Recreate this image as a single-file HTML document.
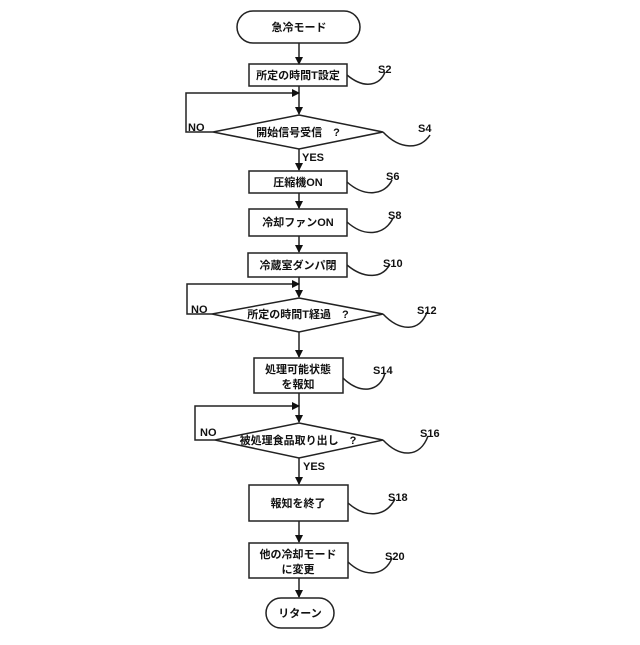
<!DOCTYPE html>
<html><head><meta charset="utf-8"><style>
body{margin:0;background:#fff}
text{font-family:"Liberation Sans","Noto Sans CJK JP",sans-serif;font-weight:bold;fill:#111}
</style></head><body>
<svg width="640" height="640" viewBox="0 0 640 640" xmlns="http://www.w3.org/2000/svg">
<defs><marker id="a" markerWidth="8" markerHeight="8" refX="7" refY="4" orient="auto" markerUnits="userSpaceOnUse"><path d="M0,0 L8,4 L0,8 z" fill="#111"/></marker></defs>
<g stroke="#222" stroke-width="1.5" fill="none">
<rect x="237" y="11" width="123" height="32" rx="16" fill="#fff"/>
<line x1="299" y1="43" x2="299" y2="64" marker-end="url(#a)"/>
<rect x="249" y="64" width="98" height="22"/>
<path d="M347,75 C365,90 380,85 385,72"/>
<line x1="299" y1="86" x2="299" y2="114" marker-end="url(#a)"/>
<polyline points="213,132 186,132 186,93 299,93" marker-end="url(#a)"/>
<polygon points="299,115 383,132 299,149 213,132"/>
<path d="M383,132 C400,150 420,150 430,135"/>
<line x1="299" y1="149" x2="299" y2="170" marker-end="url(#a)"/>
<rect x="249" y="171" width="98" height="22"/>
<path d="M347,182 C365,198 385,195 392,180"/>
<line x1="299" y1="193" x2="299" y2="208" marker-end="url(#a)"/>
<rect x="249" y="209" width="98" height="27"/>
<path d="M347,222 C365,238 385,235 393,218"/>
<line x1="299" y1="236" x2="299" y2="252" marker-end="url(#a)"/>
<rect x="248" y="253" width="99" height="24"/>
<path d="M347,265 C365,280 383,278 390,264"/>
<line x1="299" y1="277" x2="299" y2="297" marker-end="url(#a)"/>
<polyline points="212,314 187,314 187,284 299,284" marker-end="url(#a)"/>
<polygon points="299,298 383,314 299,332 212,314"/>
<path d="M383,314 C400,332 420,332 427,312"/>
<line x1="299" y1="332" x2="299" y2="357" marker-end="url(#a)"/>
<rect x="254" y="358" width="89" height="35"/>
<path d="M343,378 C360,395 380,392 385,373"/>
<line x1="299" y1="393" x2="299" y2="422" marker-end="url(#a)"/>
<polyline points="215,440 195,440 195,406 299,406" marker-end="url(#a)"/>
<polygon points="299,423 383,440 299,458 215,440"/>
<path d="M383,440 C400,458 420,458 428,436"/>
<line x1="299" y1="458" x2="299" y2="484" marker-end="url(#a)"/>
<rect x="249" y="485" width="99" height="36"/>
<path d="M348,503 C365,518 385,518 395,499"/>
<line x1="299" y1="521" x2="299" y2="542" marker-end="url(#a)"/>
<rect x="249" y="543" width="99" height="35"/>
<path d="M348,562 C365,578 385,576 392,558"/>
<line x1="299" y1="578" x2="299" y2="597" marker-end="url(#a)"/>
<rect x="266" y="598" width="68" height="30" rx="15" fill="#fff"/>
</g>
<g font-size="11" text-anchor="middle">
<text x="299" y="31">急冷モード</text>
<text x="298" y="79">所定の時間T設定</text>
<text x="298" y="136">開始信号受信　?</text>
<text x="298" y="186">圧縮機ON</text>
<text x="298" y="226">冷却ファンON</text>
<text x="298" y="269">冷蔵室ダンパ閉</text>
<text x="298" y="318">所定の時間T経過　?</text>
<text x="298" y="373">処理可能状態</text>
<text x="298" y="388">を報知</text>
<text x="298" y="444">被処理食品取り出し　?</text>
<text x="298" y="507">報知を終了</text>
<text x="298" y="558">他の冷却モード</text>
<text x="298" y="573">に変更</text>
<text x="300" y="617">リターン</text>
</g>
<g font-size="11">
<text x="378" y="73">S2</text>
<text x="418" y="132">S4</text>
<text x="386" y="180">S6</text>
<text x="388" y="219">S8</text>
<text x="383" y="267">S10</text>
<text x="417" y="314">S12</text>
<text x="373" y="374">S14</text>
<text x="420" y="437">S16</text>
<text x="388" y="501">S18</text>
<text x="385" y="560">S20</text>
<text x="188" y="131">NO</text>
<text x="191" y="313">NO</text>
<text x="200" y="436">NO</text>
<text x="302" y="161">YES</text>
<text x="303" y="470">YES</text>
</g>
</svg>
</body></html>
